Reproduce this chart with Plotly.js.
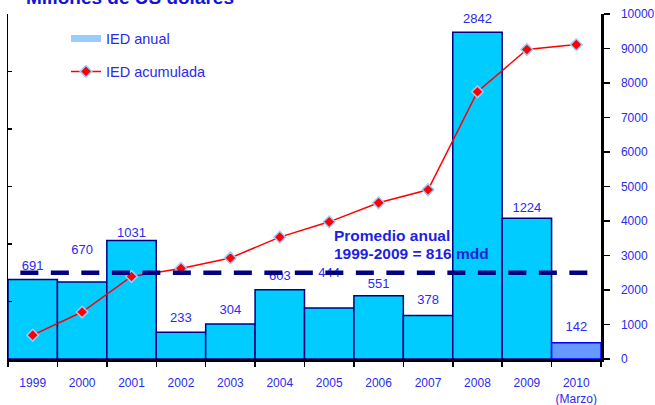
<!DOCTYPE html>
<html>
<head>
<meta charset="utf-8">
<script src="https://cdn.plot.ly/plotly-3.0.1.min.js"></script>
<style>html,body{margin:0;padding:0;background:#fff;}#chart{width:655px;height:405px;}</style>
</head>
<body>
<div id="chart"></div>
<script>
// ---- data ----
const categories = ['1999','2000','2001','2002','2003','2004','2005','2006','2007','2008','2009','2010<br>(Marzo)'];
const iedAnual = [691, 670, 1031, 233, 304, 603, 444, 551, 378, 2842, 1224, 142];
const iedAcumulada = [691, 1361, 2392, 2625, 2929, 3532, 3976, 4527, 4905, 7747, 8971, 9113];
const promedioNivel = 750;          // level of the dashed average line on the bar scale
const promedioTexto = ['Promedio anual', '1999-2009 = 816 mdd'];
const seriesNames = ['IED anual', 'IED acumulada'];

// ---- styling ----
const FONT = 'Arial, "Liberation Sans", sans-serif';
const BLUE = '#2a2af0';
const labelLift = [14, 33, 6, 15, 15, 14, 36, 12, 16, 14, 11, 16]; // px above bar top (label centre)
const labelFs = 13;
const labelSizes = labelLift.map(L => Math.max(0, 1.6 * (L - 0.61 * labelFs - 1)));
const barFill = categories.map((c, i) => i === categories.length - 1 ? '#6699ff' : '#00ccff');
const barEdge = categories.map((c, i) => i === categories.length - 1 ? '#0000ff' : '#000080');

const traces = [
  { // data labels (under the dashed line)
    type: 'scatter', mode: 'markers+text', x: categories, y: iedAnual,
    xaxis: 'x', yaxis: 'y',
    text: iedAnual.map(String), textposition: 'top center',
    textfont: {family: FONT, size: labelFs, color: BLUE},
    marker: {size: labelSizes, opacity: 0, color: '#fff'},
    showlegend: false, hoverinfo: 'skip', cliponaxis: false
  },
  { // dashed average line
    type: 'scatter', mode: 'lines', x: [-0.25, 11.3], y: [promedioNivel, promedioNivel],
    xaxis: 'x2', yaxis: 'y',
    line: {color: '#000080', width: 4.5, dash: '18px,12.5px'},
    showlegend: false, hoverinfo: 'skip'
  },
  { // annual bars
    type: 'bar', name: seriesNames[0], x: categories, y: iedAnual,
    xaxis: 'x', yaxis: 'y2', width: 1,
    marker: {color: barFill, line: {color: barEdge, width: 1.5}},
    showlegend: false, legendgroup: 'a'
  },
  { // legend swatch for the bars (wide rectangle, as in the original)
    type: 'scatter', mode: 'lines', name: seriesNames[0], x: [null], y: [null],
    xaxis: 'x', yaxis: 'y2',
    line: {color: '#99ccff', width: 7},
    legendgroup: 'a', hoverinfo: 'skip'
  },
  { // cumulative line
    type: 'scatter', mode: 'lines+markers', name: seriesNames[1], x: categories, y: iedAcumulada,
    xaxis: 'x', yaxis: 'y3',
    line: {color: '#ff0000', width: 1.5},
    marker: {symbol: 'diamond', size: 9, color: '#ff0000', line: {color: '#99ccff', width: 1.5}},
    legendgroup: 'b', cliponaxis: false
  }
];

const layout = {
  width: 655, height: 405,
  margin: {l: 8, r: 54, t: 14, b: 46, pad: 0},
  paper_bgcolor: '#ffffff', plot_bgcolor: '#ffffff',
  font: {family: FONT, color: BLUE},
  bargap: 0,
  showlegend: true,
  legend: {
    x: 0.0978, y: 0.975, xanchor: 'left', yanchor: 'top',
    bgcolor: 'rgba(0,0,0,0)', borderwidth: 0,
    font: {family: FONT, size: 14.5, color: BLUE},
    traceorder: 'grouped', tracegroupgap: 11
  },
  xaxis: {
    type: 'category', range: [-0.5, 11.5], tickson: 'boundaries', tickangle: 0,
    ticks: 'outside', ticklen: 5, tickwidth: 1.5, tickcolor: '#000',
    showline: true, linecolor: '#000', linewidth: 2.5,
    showgrid: false, zeroline: false, fixedrange: true,
    tickfont: {family: FONT, size: 12, color: BLUE}, ticklabelstandoff: 11
  },
  xaxis2: {overlaying: 'x', anchor: 'y', range: [-0.5, 11.5], visible: false, fixedrange: true},
  yaxis: {
    range: [0, 3000], dtick: 500, ticks: 'inside', ticklen: 4, tickwidth: 1.2, tickcolor: '#000',
    showticklabels: false, showline: true, linecolor: '#000', linewidth: 1.5,
    showgrid: false, zeroline: false, fixedrange: true
  },
  yaxis2: {overlaying: 'y', range: [0, 3000], visible: false, fixedrange: true},
  yaxis3: {
    overlaying: 'y', side: 'right', anchor: 'x', range: [0, 10000], dtick: 1000, tickformat: 'd',
    ticks: 'outside', ticklen: 6, tickwidth: 1.5, tickcolor: '#000',
    showline: true, linecolor: '#000', linewidth: 2.5,
    showgrid: false, zeroline: false, fixedrange: true,
    tickfont: {family: FONT, size: 12, color: BLUE}, ticklabelstandoff: 9
  },
  yaxis4: {
    overlaying: 'y', side: 'right', anchor: 'x', range: [0, 10000], dtick: 1000,
    ticks: 'inside', ticklen: 4, tickwidth: 1.5, tickcolor: '#000',
    showticklabels: false, showline: false, showgrid: false, zeroline: false, fixedrange: true
  },
  annotations: [
    {text: '<b>Millones de US dólares</b>', xref: 'paper', yref: 'paper', x: 0.0266, y: 1,
     xanchor: 'left', yanchor: 'bottom', yshift: 4, showarrow: false,
     font: {family: FONT, size: 19, color: '#1414d2'}},
    {text: '<b>' + promedioTexto[0] + '</b>', xref: 'paper', yref: 'paper', x: 0.5464, y: 0.3594,
     xanchor: 'left', yanchor: 'middle', showarrow: false,
     font: {family: FONT, size: 15.5, color: '#1f1fe0'}},
    {text: '<b>' + promedioTexto[1] + '</b>', xref: 'paper', yref: 'paper', x: 0.5464, y: 0.3072,
     xanchor: 'left', yanchor: 'middle', showarrow: false,
     font: {family: FONT, size: 15.5, color: '#1f1fe0'}}
  ]
};

Plotly.newPlot('chart', traces, layout, {displayModeBar: false, staticPlot: true});
</script>
</body>
</html>
